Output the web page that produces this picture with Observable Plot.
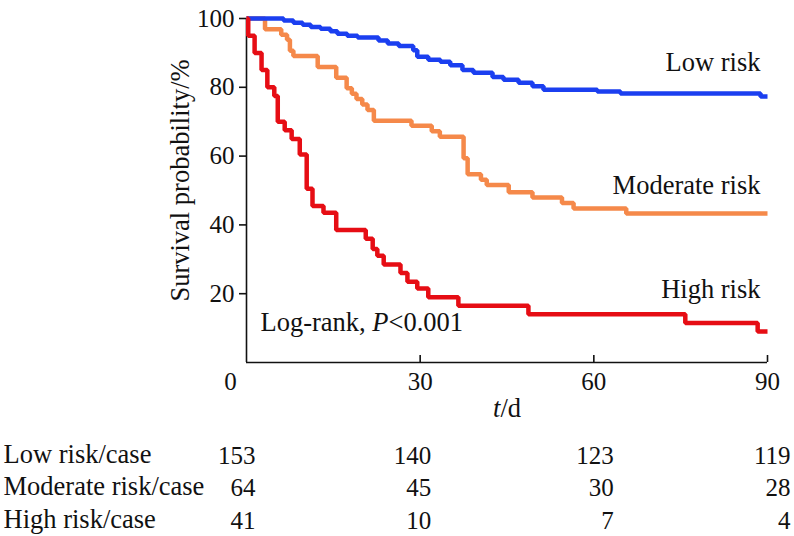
<!DOCTYPE html>
<html><head><meta charset="utf-8">
<script src="https://cdn.jsdelivr.net/npm/d3@7"></script>
<script src="https://cdn.jsdelivr.net/npm/@observablehq/plot@0.6"></script>
<style>
html,body{margin:0;padding:0;background:#fff;}
#chart svg{display:block;}
</style></head><body><div id="chart"></div>
<script>
// ---- data ----
const seriesNames = ["Low risk", "Moderate risk", "High risk"];
const lowT = [0, 6.4, 8.1, 9.7, 11.1, 12.8, 14.5, 15.7, 17.4, 19.2, 22.8, 24.4, 26.3, 28.8, 29.5, 31.4, 33.5, 35.2, 37.3, 39.2, 42.5, 44.4, 47.0, 49.4, 51.3, 60.6, 64.6, 88.8, 90];
const lowS = [100, 99.4, 98.8, 98.2, 97.5, 97.0, 96.3, 95.6, 95.0, 94.5, 93.6, 92.7, 92.0, 90.8, 88.9, 88.0, 87.4, 86.4, 85.0, 84.2, 83.0, 82.2, 81.3, 80.3, 79.3, 78.8, 78.2, 77.3, 77.3];
const modT = [0, 3.2, 6.0, 7.0, 7.5, 8.1, 12.3, 15.5, 17.3, 18.2, 19.0, 20.0, 20.9, 22.0, 28.5, 32.0, 33.4, 37.5, 38.2, 40.5, 41.5, 45.3, 49.4, 54.5, 56.5, 65.6, 90];
const modS = [100, 96.9, 95.3, 93.8, 90.6, 89.1, 85.9, 82.8, 79.7, 78.1, 76.6, 75.0, 73.4, 70.3, 68.8, 67.2, 65.6, 59.4, 54.7, 53.1, 51.6, 49.5, 48.0, 46.4, 44.8, 43.3, 43.3];
const highT = [0, 0.3, 1.4, 2.6, 3.6, 4.8, 5.4, 6.6, 7.8, 9.2, 10.4, 11.4, 13.3, 15.5, 20.6, 21.8, 22.6, 23.7, 26.6, 27.8, 29.5, 31.4, 36.6, 48.7, 75.8, 88.3, 90];
const highS = [100, 95, 90, 85, 80, 77.5, 70, 67.5, 65, 60.5, 50.5, 45.5, 43.5, 38.5, 36, 33, 31, 28.5, 26, 23.5, 21.5, 19, 16.5, 14, 11.5, 9, 9];

const xTicks = [0, 30, 60, 90];
const yTicks = [20, 40, 60, 80, 100];
const tableTimes = [0, 30, 60, 90];
const lowCases = [153, 140, 123, 119];
const moderateCases = [64, 45, 30, 28];
const highCases = [41, 10, 7, 4];
const tableRowLabels = ["Low risk/case", "Moderate risk/case", "High risk/case"];
const yLabel = "Survival probability/%";
const xLabel = "t/d";
const logRankText = "Log-rank, P<0.001";

// ---- build tables ----
const curves = [
  {name: seriesNames[0], t: lowT, s: lowS},
  {name: seriesNames[1], t: modT, s: modS},
  {name: seriesNames[2], t: highT, s: highS}
].map(c => ({name: c.name, rows: c.t.map((t, i) => ({t, s: c.s[i], series: c.name}))}));
const columns = tableTimes.map((t, i) => ({t, text: [lowCases[i], moderateCases[i], highCases[i]].join("\n")}));

// ---- styles ----
const FONT = '"Liberation Serif", "Times New Roman", serif';
const FS = 25;   // numbers
const FW = 26.5; // words
const colors = {"Low risk": "#1b3ff0", "Moderate risk": "#f5894a", "High risk": "#e60d14"};
const drawOrder = ["Moderate risk", "Low risk", "High risk"];
const labelDy = {"Low risk": -34, "Moderate risk": -28, "High risk": -42};
const colDx = [9, 11, 20, 23];

const marks = [];
marks.push(Plot.ruleX([0], {stroke: "#111", strokeWidth: 1.6}));
marks.push(Plot.ruleY([0], {stroke: "#111", strokeWidth: 1.6}));
marks.push(Plot.axisY({ticks: yTicks, tickSize: 7, tickPadding: 5, label: null, fontSize: FS, strokeWidth: 1.6}));
marks.push(Plot.axisX({ticks: xTicks.filter(d => d > 0), tickSize: -7, tickPadding: 17, label: null, fontSize: FS, strokeWidth: 1.6}));
marks.push(Plot.axisX({ticks: xTicks.filter(d => d === 0), tickSize: 0, tickPadding: 10, dx: -16, label: null, fontSize: FS}));

for (const name of drawOrder) {
  const c = curves.find(d => d.name === name);
  marks.push(Plot.line(c.rows, {x: "t", y: "s", stroke: colors[name], strokeWidth: 4.5, curve: "step-after", strokeLinejoin: "miter", strokeLinecap: "butt"}));
}
for (const c of curves) {
  const last = c.rows[c.rows.length - 1];
  marks.push(Plot.text([last], {x: "t", y: "s", text: d => d.series, textAnchor: "end", dx: -7, dy: labelDy[c.name], fontSize: FW, fill: "#111"}));
}
marks.push(Plot.text([yLabel], {frameAnchor: "left", textAnchor: "middle", rotate: -90, dx: -66, dy: -10, fontSize: FW, fill: "#111"}));
marks.push(Plot.text([xLabel], {frameAnchor: "bottom", dy: 54, fontSize: FW, fill: "#111"}));
marks.push(Plot.text([logRankText], {frameAnchor: "bottom-left", textAnchor: "start", dx: 14, dy: -32, fontSize: FW, fill: "#111"}));
marks.push(Plot.text([tableRowLabels.join("\n")], {frameAnchor: "bottom-left", textAnchor: "start", lineAnchor: "top", lineHeight: 1.3 * FS / FW, dx: -243, dy: 77, fontSize: FW, fill: "#111"}));
columns.forEach((col, i) => {
  marks.push(Plot.text([col], {x: "t", frameAnchor: "bottom", text: "text", textAnchor: "end", lineAnchor: "top", lineHeight: 1.3, dx: colDx[i], dy: 78, fontSize: FS, fill: "#111"}));
});

const chart = Plot.plot({
  width: 794, height: 536,
  marginLeft: 246, marginRight: 27, marginTop: 18, marginBottom: 174,
  style: {fontFamily: FONT, fontSize: FS + "px", color: "#111", background: "#fff", overflow: "visible"},
  x: {domain: [0, 90]},
  y: {domain: [0, 100]},
  marks
});
document.getElementById("chart").appendChild(chart);

// italic letters in labels
const NS = "http://www.w3.org/2000/svg";
function italicize(full, parts) {
  chart.querySelectorAll("text").forEach(el => {
    if (el.textContent === full && el.children.length === 0) {
      el.textContent = "";
      for (const [txt, it] of parts) {
        const ts = document.createElementNS(NS, "tspan");
        ts.textContent = txt;
        if (it) ts.setAttribute("font-style", "italic");
        el.appendChild(ts);
      }
    }
  });
}
italicize(logRankText, [["Log-rank, ", false], ["P", true], ["<0.001", false]]);
italicize(xLabel, [["t", true], ["/d", false]]);
</script></body></html>
